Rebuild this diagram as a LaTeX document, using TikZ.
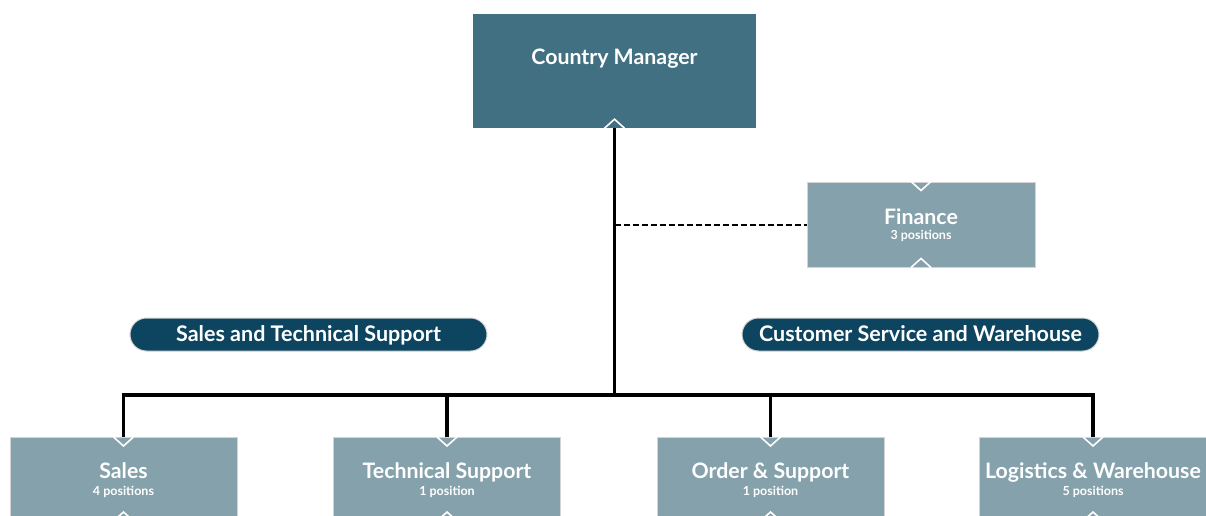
\documentclass[tikz,border=0pt]{standalone}
\usepackage{fontspec}
\setmainfont{Lato}
\usetikzlibrary{calc}
\definecolor{cmcol}{HTML}{427083}
\definecolor{boxcol}{HTML}{84A1AC}
\definecolor{pillcol}{HTML}{0D4560}
\definecolor{edgecol}{HTML}{D4D4D4}
\begin{document}
\begin{tikzpicture}[x=1pt,y=-1pt,
  box/.style={rectangle, fill=boxcol, draw=edgecol, line width=1pt, inner sep=0pt},
  topbox/.style={rectangle, fill=cmcol, inner sep=0pt},
  pill/.style={rectangle, rounded corners=16.5pt, fill=pillcol, draw=edgecol, line width=1pt, minimum width=357pt, minimum height=33pt, inner sep=0pt, text height=14pt, text depth=0pt, text=white, font=\fontsize{21.5}{24}\selectfont\bfseries},
  title/.style={text=white, font=\fontsize{21.3}{24}\selectfont\bfseries, inner sep=0pt, anchor=base},
  sub/.style={text=white, font=\fontsize{12.5}{14}\selectfont\bfseries, inner sep=0pt, anchor=base},
  conn/.style={line width=3.5pt, black},
  dashconn/.style={line width=2pt, black, dash pattern=on 6pt off 3pt},
  chev/.style={white, line width=1.6pt}
]
\useasboundingbox (0,0) rectangle (1206,516);
\fill[white] (0,0) rectangle (1206,516);

% nodes
\node[topbox, minimum width=283pt, minimum height=114pt] (cm) at (614.5,71) {};
\node[title] (cmt) at (614.5,65) {Country Manager};

\node[box, minimum width=228pt, minimum height=85pt] (fin) at (921,224.5) {};
\node[title] (fint) at (921,224) {Finance};
\node[sub] (fins) at (921,239) {3 positions};

\node[pill] (p1) at (308.5,334.5) {Sales and Technical Support};
\node[pill] (p2) at (920.5,334.5) {Customer Service and Warehouse};

\node[box, minimum width=227pt, minimum height=90pt, anchor=north] (b1) at (123.5,437) {};
\node[box, minimum width=227pt, minimum height=90pt, anchor=north] (b2) at (447,437) {};
\node[box, minimum width=227pt, minimum height=90pt, anchor=north] (b3) at (770.5,437) {};
\node[box, minimum width=227pt, minimum height=90pt, anchor=north] (b4) at (1093,437) {};

\node[title] (b1t) at (123.5,478.5) {Sales};
\node[sub] (b1s) at (123.5,495) {4 positions};
\node[title] (b2t) at (447,478.5) {Technical Support};
\node[sub] (b2s) at (447,495) {1 position};
\node[title] (b3t) at (770.5,478.5) {Order \& Support};
\node[sub] (b3s) at (770.5,495) {1 position};
\node[title] (b4t) at (1093,478.5) {Logistics \& Warehouse};
\node[sub] (b4s) at (1093,495) {5 positions};

% connectors
\coordinate (hub) at (614.5,395);
\coordinate (dj) at (614.5,224.5);
\draw[conn] (cm.south) -- (hub);
\draw[conn] (b1.north) |- (hub) -| (b4.north);
\draw[conn] (b2.north) -- (b2.north |- hub);
\draw[conn] (b3.north) -- (b3.north |- hub);
\draw[dashconn] (dj) -- (fin.west);

% chevrons
\foreach \n in {fin,b1,b2,b3,b4}{
  \draw[chev] ($(\n.north)+(-10,0)$) -- ($(\n.north)+(0,9)$) -- ($(\n.north)+(10,0)$);
}
\foreach \n in {cm,fin}{
  \draw[chev] ($(\n.south)+(-10,0)$) -- ($(\n.south)+(0,-9)$) -- ($(\n.south)+(10,0)$);
}
\foreach \n in {b1,b2,b3,b4}{
  \draw[chev] ($(\n.north)+(-10,84)$) -- ($(\n.north)+(0,75)$) -- ($(\n.north)+(10,84)$);
}
\end{tikzpicture}
\end{document}
